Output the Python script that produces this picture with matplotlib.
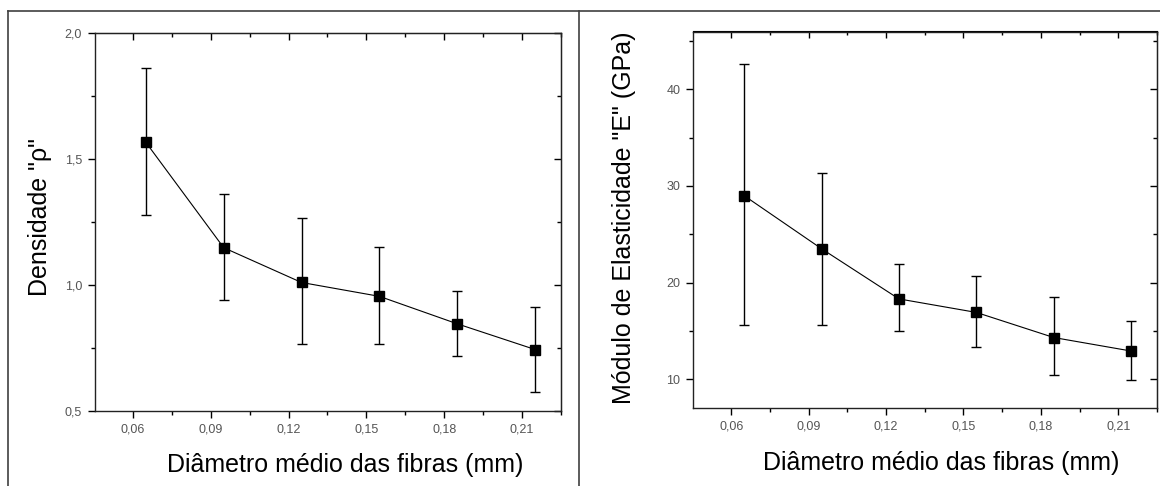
import numpy as np
import matplotlib
matplotlib.use("Agg")
import matplotlib.pyplot as plt
from matplotlib.lines import Line2D
from matplotlib.ticker import FixedLocator, FuncFormatter

plt.rcParams["font.family"] = ["Liberation Sans", "DejaVu Sans"]

# data
diametro = [0.065, 0.095, 0.125, 0.155, 0.185, 0.215]

densidade = [1.566, 1.148, 1.010, 0.955, 0.846, 0.744]
dens_sup = [1.861, 1.363, 1.264, 1.152, 0.977, 0.914]
dens_inf = [1.276, 0.942, 0.766, 0.766, 0.719, 0.577]

modulo = [29.0, 23.5, 18.3, 16.9, 14.3, 12.9]
mod_sup = [42.6, 31.3, 21.9, 20.65, 18.45, 16.0]
mod_inf = [15.6, 15.6, 15.0, 13.3, 10.4, 9.87]

x_ticks = [0.06, 0.09, 0.12, 0.15, 0.18, 0.21]
x_minor = [0.075, 0.105, 0.135, 0.165, 0.195, 0.225]
dens_ticks = [0.5, 1.0, 1.5, 2.0]
dens_minor = [0.75, 1.25, 1.75]
mod_ticks = [10, 20, 30, 40]
mod_minor = [15, 25, 35, 45]

xlabel = "Diâmetro médio das fibras (mm)"
dens_label = 'Densidade "ρ"'
mod_label = 'Módulo de Elasticidade "E" (GPa)'

W, H = 1160, 486
fig = plt.figure(figsize=(W / 100, H / 100), dpi=100)


def px_box(x0, y0, x1, y1):
    return [x0 / W, 1 - y1 / H, (x1 - x0) / W, (y1 - y0) / H]


def comma(fmt):
    return FuncFormatter(lambda v, p: format(v, fmt).replace(".", ","))


def draw_panel(box, y, y_sup, y_inf, ylim, yt, ymin, yfmt):
    ax = fig.add_axes(box)
    y = np.array(y)
    err = [y - np.array(y_inf), np.array(y_sup) - y]
    ax.errorbar(diametro, y, yerr=err, color="black", lw=0.8, elinewidth=1.0,
                capsize=3.5, capthick=1.0, marker="s", markersize=6.5,
                mfc="black", mec="black")
    ax.set_xlim(0.0452, 0.225)
    ax.set_ylim(*ylim)
    ax.xaxis.set_major_locator(FixedLocator(x_ticks))
    ax.xaxis.set_minor_locator(FixedLocator(x_minor))
    ax.yaxis.set_major_locator(FixedLocator(yt))
    ax.yaxis.set_minor_locator(FixedLocator(ymin))
    ax.xaxis.set_major_formatter(comma(".2f"))
    ax.yaxis.set_major_formatter(comma(yfmt))
    ax.tick_params(which="major", direction="out", length=5, width=1,
                   labelsize=9, labelcolor="#555555", pad=4)
    ax.tick_params(which="minor", direction="out", length=3, width=1)
    for s in ax.spines.values():
        s.set_linewidth(1.0)
        s.set_color("#222222")

    top = ax.secondary_xaxis("top")
    top.xaxis.set_major_locator(FixedLocator(x_ticks))
    top.xaxis.set_minor_locator(FixedLocator(x_minor))
    top.tick_params(which="major", direction="in", length=5, width=1, labeltop=False)
    top.tick_params(which="minor", direction="in", length=3, width=1)
    right = ax.secondary_yaxis("right")
    right.yaxis.set_major_locator(FixedLocator(yt))
    right.yaxis.set_minor_locator(FixedLocator(ymin))
    right.tick_params(which="major", direction="in", length=5, width=1, labelright=False)
    right.tick_params(which="minor", direction="in", length=3, width=1)
    return ax


draw_panel(px_box(94.5, 33, 561, 411), densidade, dens_sup, dens_inf,
           (0.5, 2.0), dens_ticks, dens_minor, ".1f")
draw_panel(px_box(693, 31.5, 1157, 408), modulo, mod_sup, mod_inf,
           (7, 46), mod_ticks, mod_minor, ".0f")

fig.text(345 / W, 1 - 465 / H, xlabel, fontsize=18, ha="center", va="center")
fig.text(941 / W, 1 - 463 / H, xlabel, fontsize=18, ha="center", va="center")
fig.text(40 / W, 1 - 217 / H, dens_label, fontsize=18, rotation=90,
         ha="center", va="center")
fig.text(624 / W, 1 - 218 / H, mod_label, fontsize=18, rotation=90,
         ha="center", va="center")

# table frame around the two panels
frame = dict(color="#404040", lw=1.2, transform=fig.transFigure)
fig.add_artist(Line2D([8 / W, 1], [1 - 11 / H, 1 - 11 / H], **frame))
fig.add_artist(Line2D([8 / W, 8 / W], [0, 1 - 11 / H], **frame))
fig.add_artist(Line2D([579 / W, 579 / W], [0, 1 - 11 / H], **frame))

fig.savefig("out.png", dpi=100)
